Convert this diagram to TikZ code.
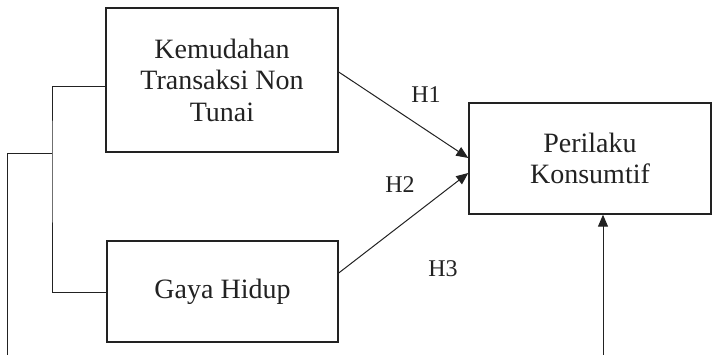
\documentclass[tikz,border=0pt]{standalone}
\usepackage{fontspec}
\setmainfont{Liberation Serif}
\usetikzlibrary{arrows.meta}
\definecolor{ink}{HTML}{222222}
\tikzset{
  box/.style={draw=ink, line width=1.4pt, rectangle, inner sep=0pt, align=center, text=ink,
    font=\fontsize{28}{31.5}\selectfont},
  conn/.style={draw=ink, line width=1pt},
  arr/.style={conn, -{Triangle[length=12pt,width=10pt]}},
  lbl/.style={text=ink, font=\fontsize{24}{28}\selectfont, inner sep=0pt}
}
\begin{document}
\begin{tikzpicture}[x=1pt,y=-1pt]
\useasboundingbox (0,0) rectangle (712,355);
\node[box, minimum width=232pt, minimum height=144pt] (k) at (222,80) {Kemudahan\\Transaksi Non\\Tunai};
\node[box, minimum width=231pt, minimum height=101pt] (g) at (222.5,291.5) {Gaya Hidup};
\node[box, minimum width=242pt, minimum height=111pt] (p) at (590,158.5) {Perilaku\\Konsumtif};
\node[lbl] (h1) at (426,95) {H1};
\node[lbl] (h2) at (400,185) {H2};
\node[lbl] (h3) at (443,269) {H3};
\draw[arr] ([yshift=8pt]k.east) -- ([yshift=0.5pt]p.west);
\draw[arr] ([yshift=18.5pt]g.east) -- ([yshift=-14.5pt]p.west);
\coordinate (bot) at (603,355);
\draw[arr] (bot) -- (bot |- p.south);
\coordinate (mid) at (52,154);
\coordinate (far) at (7,355);
\draw[conn] ([yshift=-7pt]k.west) -| (mid) |- ([yshift=-1.5pt]g.west);
\draw[conn] (far) |- (mid);
\end{tikzpicture}
\end{document}
